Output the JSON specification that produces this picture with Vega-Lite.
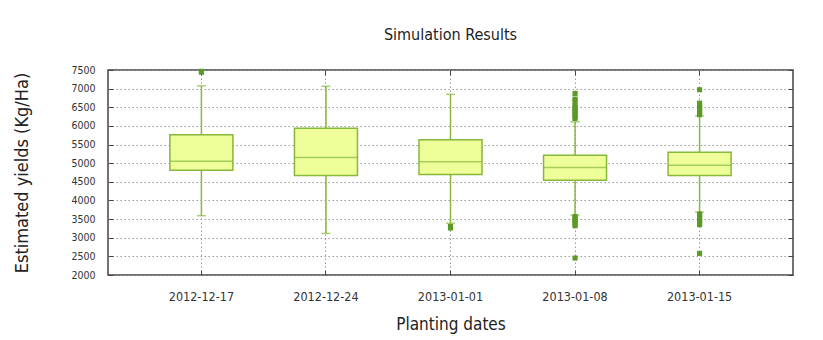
{
  "$schema": "https://vega.github.io/schema/vega-lite/v6.json",
  "width": 685,
  "height": 205,
  "autosize": {"type": "none"},
  "padding": {"left": 108, "top": 70, "right": 30, "bottom": 65},
  "background": "white",
  "title": {"text": "Simulation Results", "font": "DejaVu Sans Condensed", "fontSize": 16, "fontWeight": "normal", "color": "#222", "offset": 22, "anchor": "middle"},
  "config": {
    "view": {"stroke": "#444", "strokeWidth": 1.5},
    "axis": {"labelFont": "DejaVu Sans Condensed", "titleFont": "DejaVu Sans Condensed", "titleFontWeight": "normal", "titleColor": "#222", "labelColor": "#333", "titleFontSize": 17, "domain": false, "tickColor": "#444", "tickSize": -5, "tickWidth": 1, "gridColor": "#9a9a9a", "gridDash": [1.5, 2.5], "gridWidth": 1, "gridOpacity": 1}
  },
  "datasets": {
    "boxes": [
      {"date": "2012-12-17", "lower": 3590, "q1": 4808, "median": 5050, "q3": 5765, "upper": 7075},
      {"date": "2012-12-24", "lower": 3115, "q1": 4670, "median": 5153, "q3": 5940, "upper": 7062},
      {"date": "2013-01-01", "lower": 3387, "q1": 4696, "median": 5038, "q3": 5629, "upper": 6847},
      {"date": "2013-01-08", "lower": 3600, "q1": 4543, "median": 4884, "q3": 5215, "upper": 6110},
      {"date": "2013-01-15", "lower": 3683, "q1": 4670, "median": 4946, "q3": 5296, "upper": 6270}
    ],
    "outliers": [
      {"date": "2012-12-17", "value": 7440},
      {"date": "2012-12-17", "value": 7465},
      {"date": "2013-01-01", "value": 3300},
      {"date": "2013-01-01", "value": 3260},
      {"date": "2013-01-08", "value": 6200},
      {"date": "2013-01-08", "value": 6250},
      {"date": "2013-01-08", "value": 6300},
      {"date": "2013-01-08", "value": 6350},
      {"date": "2013-01-08", "value": 6400},
      {"date": "2013-01-08", "value": 6450},
      {"date": "2013-01-08", "value": 6500},
      {"date": "2013-01-08", "value": 6550},
      {"date": "2013-01-08", "value": 6670},
      {"date": "2013-01-08", "value": 6720},
      {"date": "2013-01-08", "value": 6870},
      {"date": "2013-01-08", "value": 3570},
      {"date": "2013-01-08", "value": 3520},
      {"date": "2013-01-08", "value": 3470},
      {"date": "2013-01-08", "value": 3420},
      {"date": "2013-01-08", "value": 3370},
      {"date": "2013-01-08", "value": 3320},
      {"date": "2013-01-08", "value": 2455},
      {"date": "2013-01-15", "value": 6300},
      {"date": "2013-01-15", "value": 6350},
      {"date": "2013-01-15", "value": 6400},
      {"date": "2013-01-15", "value": 6450},
      {"date": "2013-01-15", "value": 6500},
      {"date": "2013-01-15", "value": 6550},
      {"date": "2013-01-15", "value": 6610},
      {"date": "2013-01-15", "value": 6970},
      {"date": "2013-01-15", "value": 3640},
      {"date": "2013-01-15", "value": 3590},
      {"date": "2013-01-15", "value": 3540},
      {"date": "2013-01-15", "value": 3490},
      {"date": "2013-01-15", "value": 3440},
      {"date": "2013-01-15", "value": 3390},
      {"date": "2013-01-15", "value": 3350},
      {"date": "2013-01-15", "value": 2580}
    ]
  },
  "layer": [
    {
      "data": {"name": "boxes"},
      "mark": {"type": "rule", "color": "#86b83c", "strokeWidth": 1.5},
      "encoding": {
        "x": {"field": "date", "type": "nominal", "sort": null,
              "scale": {"paddingInner": 0, "paddingOuter": 0.25},
              "axis": {"orient": "bottom", "title": "Planting dates", "labelAngle": 0, "labelFontSize": 12.5, "labelPadding": 20, "titlePadding": 14, "grid": true}},
        "y": {"field": "lower", "type": "quantitative",
              "scale": {"domain": [2000, 7500], "nice": false, "zero": false},
              "axis": {"orient": "left", "title": "Estimated yields (Kg/Ha)", "titleFontSize": 18, "format": "d", "values": [2000, 2500, 3000, 3500, 4000, 4500, 5000, 5500, 6000, 6500, 7000, 7500], "labelFontSize": 10.5, "labelPadding": 18, "titlePadding": 39, "grid": true}},
        "y2": {"field": "upper"}
      }
    },
    {
      "data": {"name": "boxes"},
      "mark": {"type": "tick", "color": "#86b83c", "size": 9, "thickness": 1.5},
      "encoding": {
        "x": {"field": "date", "type": "nominal", "sort": null,
              "axis": {"orient": "top", "labels": false, "title": null, "grid": false}},
        "y": {"field": "lower", "type": "quantitative",
              "axis": {"orient": "right", "labels": false, "title": null, "grid": false, "values": [2000, 2500, 3000, 3500, 4000, 4500, 5000, 5500, 6000, 6500, 7000, 7500]}}
      }
    },
    {
      "data": {"name": "boxes"},
      "mark": {"type": "tick", "color": "#86b83c", "size": 9, "thickness": 1.5},
      "encoding": {
        "x": {"field": "date", "type": "nominal", "sort": null, "axis": null},
        "y": {"field": "upper", "type": "quantitative", "axis": null}
      }
    },
    {
      "data": {"name": "boxes"},
      "mark": {"type": "bar", "fill": "#eeff99", "stroke": "#86b83c", "strokeWidth": 1.5, "size": 63},
      "encoding": {
        "x": {"field": "date", "type": "nominal", "sort": null, "axis": null},
        "y": {"field": "q1", "type": "quantitative", "axis": null},
        "y2": {"field": "q3"}
      }
    },
    {
      "data": {"name": "boxes"},
      "mark": {"type": "tick", "color": "#86b83c", "size": 63, "thickness": 1.5},
      "encoding": {
        "x": {"field": "date", "type": "nominal", "sort": null, "axis": null},
        "y": {"field": "median", "type": "quantitative", "axis": null}
      }
    },
    {
      "data": {"name": "outliers"},
      "mark": {"type": "point", "shape": "square", "filled": true, "color": "#5b9a26", "size": 26, "opacity": 1},
      "encoding": {
        "x": {"field": "date", "type": "nominal", "sort": null, "axis": null},
        "y": {"field": "value", "type": "quantitative", "axis": null}
      }
    }
  ],
  "resolve": {"axis": {"x": "independent", "y": "independent"}}
}
